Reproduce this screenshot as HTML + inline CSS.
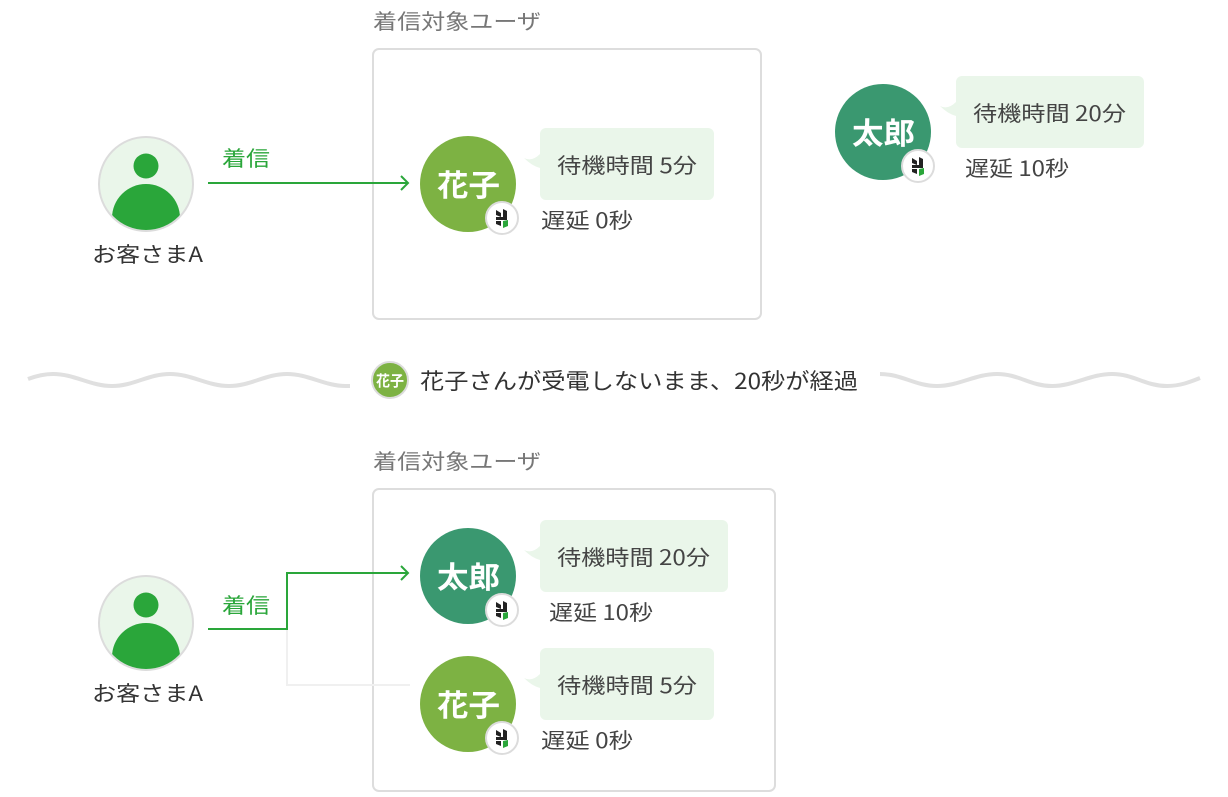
<!DOCTYPE html>
<html><head><meta charset="utf-8"><style>
html,body{margin:0;padding:0;background:#fff;}
svg text{font-family:"Noto Sans CJK JP","Liberation Sans",sans-serif;}
</style></head><body>
<svg width="1228" height="792" viewBox="0 0 1228 792" xmlns="http://www.w3.org/2000/svg">
<defs>
<clipPath id="cc"><circle cx="0" cy="0" r="46"/></clipPath>
<g id="cust">
  <circle cx="0" cy="0" r="47" fill="#eaf6ea" stroke="#dcdcdc" stroke-width="2"/>
  <g clip-path="url(#cc)">
    <circle cx="0" cy="-18" r="12.5" fill="#2aa63a"/>
    <circle cx="0" cy="34" r="34" fill="#2aa63a"/>
  </g>
</g>
<g id="badge">
  <circle cx="0" cy="0" r="16" fill="#fff" stroke="#dcdcdc" stroke-width="2"/>
  <polygon points="-6,-8 -1,-5 -1,-1 -6,-3" fill="#222"/>
  <polygon points="1,-9 5,-7 5,-1 1,-1" fill="#222"/>
  <polygon points="-6,-1 5,-1 5,2 -6,2" fill="#222"/>
  <polygon points="1,3 6,2 6,8 1,10" fill="#2aa63a"/>
  <polygon points="-6,3 -1,3 -1,8 -6,6" fill="#222"/>
</g>
<g id="tail"><path d="M0,0 Q8,4 16,-4 L16,10 Q8,8 0,0 Z" fill="#eaf6ea"/></g>
</defs>

<text x="373" y="29" font-size="21" fill="#777" textLength="168" lengthAdjust="spacingAndGlyphs">着信対象ユーザ</text>
<rect x="373" y="49" width="388" height="270" rx="6" fill="none" stroke="#dddddd" stroke-width="2"/>

<use href="#cust" x="146" y="184"/>
<text x="92" y="262" font-size="21" fill="#333" textLength="111" lengthAdjust="spacingAndGlyphs">お客さまA</text>
<text x="222" y="166" font-size="21" fill="#2aa63a" textLength="48" lengthAdjust="spacingAndGlyphs">着信</text>
<line x1="208" y1="183" x2="408" y2="183" stroke="#2aa63a" stroke-width="2"/>
<polyline points="401,176 408,183 401,190" fill="none" stroke="#2aa63a" stroke-width="2"/>

<circle cx="468" cy="184" r="48" fill="#7db243"/>
<text x="437" y="196" font-size="30" font-weight="bold" fill="#fff" textLength="63" lengthAdjust="spacingAndGlyphs">花子</text>
<use href="#badge" x="502" y="218"/>
<use href="#tail" x="524" y="158"/>
<rect x="540" y="128" width="174" height="72" rx="6" fill="#eaf6ea"/>
<text x="557" y="173" font-size="21" fill="#444" textLength="140" lengthAdjust="spacingAndGlyphs">待機時間 5分</text>
<text x="541" y="228" font-size="21" fill="#444" textLength="92" lengthAdjust="spacingAndGlyphs">遅延 0秒</text>

<circle cx="883" cy="132" r="48" fill="#3a9870"/>
<text x="852" y="144" font-size="30" font-weight="bold" fill="#fff" textLength="63" lengthAdjust="spacingAndGlyphs">太郎</text>
<use href="#badge" x="918" y="166"/>
<use href="#tail" x="940" y="106"/>
<rect x="956" y="76" width="188" height="72" rx="6" fill="#eaf6ea"/>
<text x="973" y="121" font-size="21" fill="#444" textLength="153" lengthAdjust="spacingAndGlyphs">待機時間 20分</text>
<text x="965" y="176" font-size="21" fill="#444" textLength="104" lengthAdjust="spacingAndGlyphs">遅延 10秒</text>

<path d="M28,379 C36,376 45,374 53,374 C75,374 90,386 112,386 C134,386 148,374 170,374 C192,374 207,386 229,386 C251,386 265,374 287,374 C309,374 324,386 346,386 L350,386" fill="none" stroke="#e0e0e0" stroke-width="4"/>
<path d="M880,374 C902,374 915,386 937,386 C959,386 975,374 997,374 C1019,374 1030,386 1052,386 C1074,386 1090,374 1112,374 C1134,374 1145,386 1167,386 C1180,386 1190,382 1200,378" fill="none" stroke="#e0e0e0" stroke-width="4"/>
<circle cx="390" cy="380" r="18" fill="#7db243" stroke="#dcdcdc" stroke-width="2"/>
<text x="376" y="386" font-size="15" font-weight="bold" fill="#fff" textLength="28" lengthAdjust="spacingAndGlyphs">花子</text>
<text x="420" y="389" font-size="22" fill="#333" textLength="438" lengthAdjust="spacingAndGlyphs">花子さんが受電しないまま、20秒が経過</text>

<text x="373" y="469" font-size="21" fill="#777" textLength="168" lengthAdjust="spacingAndGlyphs">着信対象ユーザ</text>
<rect x="373" y="489" width="402" height="302" rx="6" fill="none" stroke="#dddddd" stroke-width="2"/>

<use href="#cust" x="146" y="623"/>
<text x="92" y="701" font-size="21" fill="#333" textLength="111" lengthAdjust="spacingAndGlyphs">お客さまA</text>
<text x="222" y="613" font-size="21" fill="#2aa63a" textLength="48" lengthAdjust="spacingAndGlyphs">着信</text>
<polyline points="287,629 287,685 410,685" fill="none" stroke="#f0f0f0" stroke-width="2"/>
<polyline points="208,629 287,629 287,573 408,573" fill="none" stroke="#2aa63a" stroke-width="2"/>
<polyline points="401,566 408,573 401,580" fill="none" stroke="#2aa63a" stroke-width="2"/>

<circle cx="468" cy="576" r="48" fill="#3a9870"/>
<text x="437" y="588" font-size="30" font-weight="bold" fill="#fff" textLength="63" lengthAdjust="spacingAndGlyphs">太郎</text>
<use href="#badge" x="502" y="610"/>
<use href="#tail" x="524" y="550"/>
<rect x="540" y="520" width="188" height="72" rx="6" fill="#eaf6ea"/>
<text x="557" y="565" font-size="21" fill="#444" textLength="153" lengthAdjust="spacingAndGlyphs">待機時間 20分</text>
<text x="549" y="620" font-size="21" fill="#444" textLength="104" lengthAdjust="spacingAndGlyphs">遅延 10秒</text>

<circle cx="468" cy="704" r="48" fill="#7db243"/>
<text x="437" y="716" font-size="30" font-weight="bold" fill="#fff" textLength="63" lengthAdjust="spacingAndGlyphs">花子</text>
<use href="#badge" x="502" y="738"/>
<use href="#tail" x="524" y="678"/>
<rect x="540" y="648" width="174" height="72" rx="6" fill="#eaf6ea"/>
<text x="557" y="693" font-size="21" fill="#444" textLength="140" lengthAdjust="spacingAndGlyphs">待機時間 5分</text>
<text x="541" y="748" font-size="21" fill="#444" textLength="92" lengthAdjust="spacingAndGlyphs">遅延 0秒</text>
</svg>
</body></html>
